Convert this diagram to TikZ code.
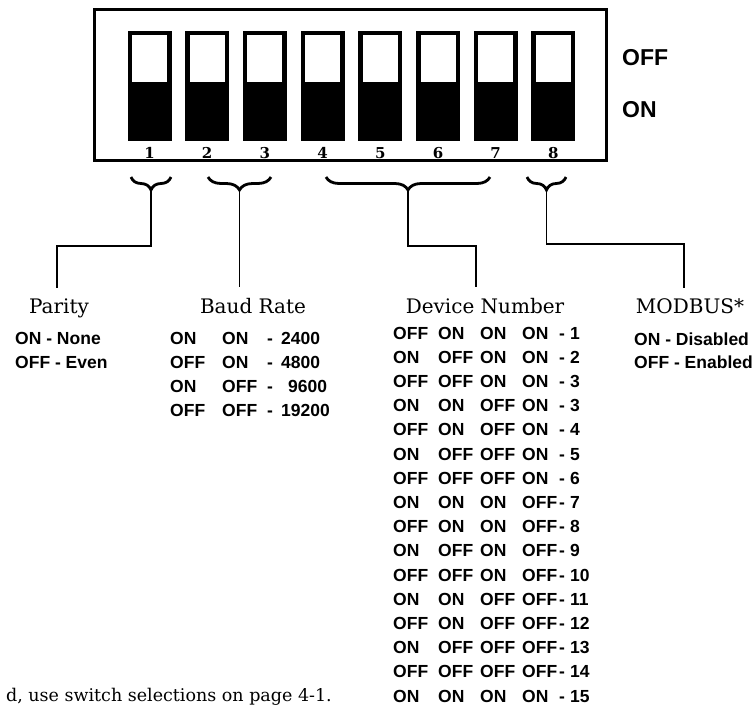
\documentclass[tikz,border=0pt]{standalone}
\usepackage{fontspec}
\setmainfont{DejaVu Serif}
\newfontfamily\tabfont{Liberation Sans}
\usetikzlibrary{decorations.pathreplacing,calc}

\begin{document}
\begin{tikzpicture}[
    x=1pt, y=-1pt,
    dipsw/.style={rectangle, draw, line width=3pt, minimum width=38pt, minimum height=104pt, inner sep=0pt, fill=white},
    swnum/.style={font=\bfseries\fontsize{15}{15}\selectfont, inner sep=0pt},
    sidelbl/.style={font=\tabfont\bfseries\fontsize{23}{23}\selectfont, anchor=west, inner sep=0pt},
    grpbrace/.style={decorate, decoration={brace, mirror, amplitude=13pt}, line width=2.8pt},
    lead/.style={line width=1.8pt, shorten >=7pt},
    head/.style={font=\fontsize{20}{22}\selectfont, anchor=base},
    cell/.style={font=\tabfont\bfseries\fontsize{17.5}{17.5}\selectfont, anchor=base west, inner sep=0pt},
    note/.style={font=\fontsize{17.5}{19}\selectfont, anchor=base east, inner sep=0pt}
]
    \useasboundingbox (0,0) rectangle (755,713);

    % Switch housing
    \draw[line width=3pt] (94.5,9.5) rectangle (606.5,160.5);

    % Switches, black = ON half
    \foreach \i in {1,...,8} {
        \node[dipsw] (sw\i) at ({149.5+57.7*(\i-1)}, 85.5) {};
        \fill (sw\i.south west) rectangle ($(sw\i.north east)!0.47!(sw\i.south east)$);
        \draw[line width=3pt] (sw\i.south west) rectangle (sw\i.north east);
        \node[swnum] (n\i) at ($(sw\i.south)+(0,14)$) {\i};
    }

    % Position labels
    \node[sidelbl] (offlbl) at (622,58) {OFF};
    \node[sidelbl] (onlbl) at (622,110) {ON};

    % Braces under the switch groups
    \coordinate (b1l) at (131,177);  \coordinate (b1r) at (171,177);
    \coordinate (b2l) at (208,177);  \coordinate (b2r) at (271,177);
    \coordinate (b3l) at (326,177);  \coordinate (b3r) at (490,177);
    \coordinate (b4l) at (527,177);  \coordinate (b4r) at (566,177);
    \foreach \g in {1,...,4} {
        \draw[grpbrace] (b\g l) -- (b\g r);
        \coordinate (t\g) at ($($(b\g l)!0.5!(b\g r)$)+(0,13)$);
    }

    % Group headings
    \node[head] (parity) at (59,313) {Parity};
    \node[head] (baud) at (253,313) {Baud Rate};
    \node[head] (device) at (485,313) {Device Number};
    \node[head] (modbus) at (690,313) {MODBUS*};

    % Leads
    \coordinate (k1) at (57,246);
    \coordinate (k3) at (476,246);
    \coordinate (k4) at (684,244);
    \draw[lead] (t1) |- (k1) -- (k1 |- parity.north);
    \draw[lead] (t2) -- (t2 |- baud.north);
    \draw[lead] (t3) |- (k3) -- (k3 |- device.north);
    \draw[lead] (t4) |- (k4) -- (k4 |- modbus.north);

    % Parity
    \node[cell] (par1) at (15,344) {ON - None};
    \node[cell] (par2) at (15,368) {OFF - Even};

    % Baud rate
    \foreach \a/\b/\r/\x [count=\k from 0] in {ON/ON/2400/281, OFF/ON/4800/281, ON/OFF/9600/288, OFF/OFF/19200/281} {
        \node[cell] (bd\k-a) at (170,{344+24*\k}) {\a};
        \node[cell] (bd\k-b) at (222,{344+24*\k}) {\b};
        \node[cell] (bd\k-d) at (267,{344+24*\k}) {-};
        \node[cell] (bd\k-r) at (\x,{344+24*\k}) {\r};
    }

    % Device number
    \foreach \a/\b/\c/\d/\n [count=\k from 0] in {
        OFF/ON/ON/ON/1, ON/OFF/ON/ON/2, OFF/OFF/ON/ON/3, ON/ON/OFF/ON/3,
        OFF/ON/OFF/ON/4, ON/OFF/OFF/ON/5, OFF/OFF/OFF/ON/6, ON/ON/ON/OFF/7,
        OFF/ON/ON/OFF/8, ON/OFF/ON/OFF/9, OFF/OFF/ON/OFF/10, ON/ON/OFF/OFF/11,
        OFF/ON/OFF/OFF/12, ON/OFF/OFF/OFF/13, OFF/OFF/OFF/OFF/14, ON/ON/ON/ON/15} {
        \node[cell] (dv\k-a) at (393,{339+24.2*\k}) {\a};
        \node[cell] (dv\k-b) at (438,{339+24.2*\k}) {\b};
        \node[cell] (dv\k-c) at (480,{339+24.2*\k}) {\c};
        \node[cell] (dv\k-d) at (522,{339+24.2*\k}) {\d};
        \node[cell] (dv\k-s) at (559,{339+24.2*\k}) {-};
        \node[cell] (dv\k-n) at (570,{339+24.2*\k}) {\n};
    }

    % MODBUS
    \node[cell] (mb1) at (634,345) {ON - Disabled};
    \node[cell] (mb2) at (634,368) {OFF - Enabled};

    % Footnote
    \node[note] (note) at (332,701) {d, use switch selections on page 4-1.};
\end{tikzpicture}
\end{document}
